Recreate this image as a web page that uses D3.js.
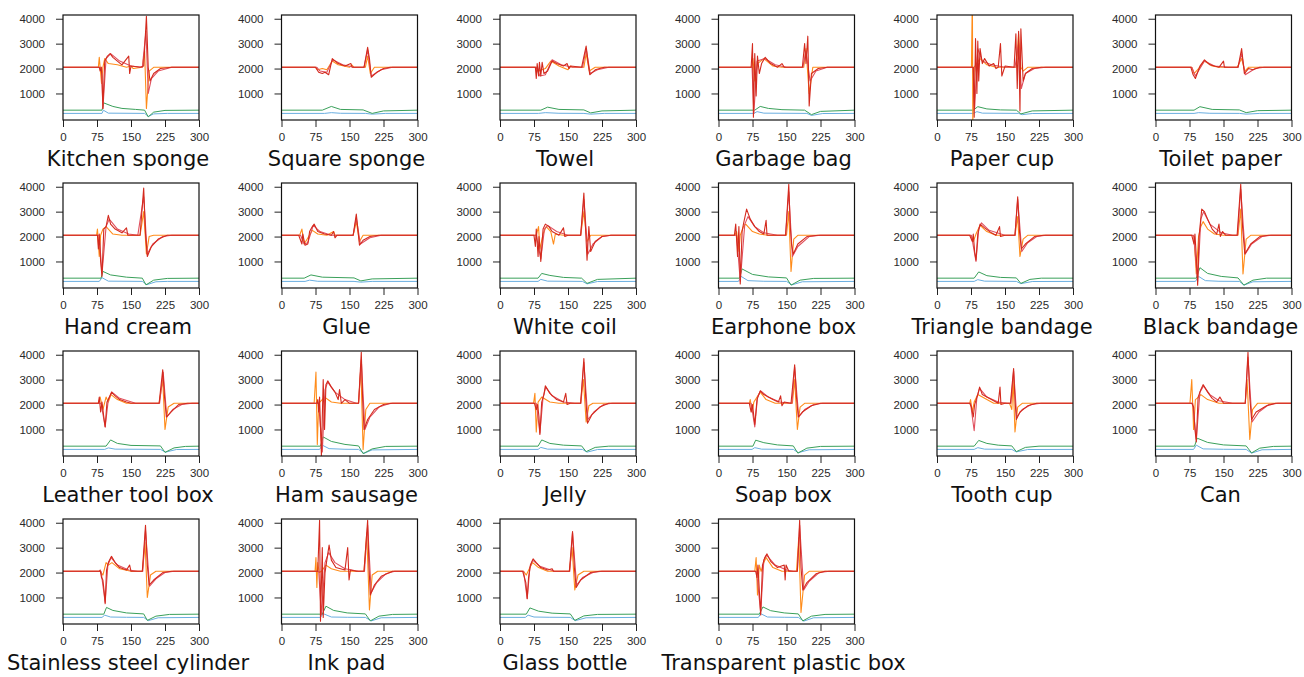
<!DOCTYPE html>
<html>
<head>
<meta charset="UTF-8">
<title>Small multiples</title>
<script src="https://d3js.org/d3.v7.min.js"></script>
<style>
  body { margin:0; background:#fff; font-family:"DejaVu Sans", sans-serif; }
  .tick text { font-size:11.5px; fill:#2a2a2a; }
  .tick line { stroke:#222; }
  .title { font-size:21px; fill:#111; }
</style>
</head>
<body>
<svg id="chart" width="1304" height="677"></svg>
<script>
const names = ["Kitchen sponge","Square sponge","Towel","Garbage bag","Paper cup","Toilet paper",
  "Hand cream","Glue","White coil","Earphone box","Triangle bandage","Black bandage",
  "Leather tool box","Ham sausage","Jelly","Soap box","Tooth cup","Can",
  "Stainless steel cylinder","Ink pad","Glass bottle","Transparent plastic box"];

const xTicks = [0,75,150,225,300];
const yTicks = [1000,2000,3000,4000];

// dark red channel (sharp, jittery)
const redSeries = [
  [[0,2050],[80,2050],[82,1900],[84,2050],[86,1700],[88,400],[92,2300],[98,2500],[104,2600],[110,2450],[120,2300],[130,2150],[145,2500],[147,1800],[150,2100],[170,2050],[178,2100],[184,4100],[188,2050],[192,1500],[200,1800],[215,2000],[240,2050],[300,2050]],
  [[0,2050],[75,2050],[82,1850],[90,1800],[96,1850],[104,1750],[112,2400],[125,2200],[140,2100],[153,2200],[156,2050],[182,2050],[190,2850],[194,2400],[198,1650],[210,1850],[225,2000],[240,2050],[300,2050]],
  [[0,2050],[78,2050],[80,1600],[82,2200],[85,1700],[87,2250],[90,1700],[93,2250],[97,1800],[105,1900],[115,2300],[125,2200],[140,2100],[148,2200],[152,2000],[156,2100],[180,2050],[190,2900],[194,2300],[198,1750],[210,1950],[230,2050],[300,2050]],
  [[0,2050],[72,2050],[75,3000],[77,50],[80,2600],[83,900],[86,2500],[90,1800],[95,2200],[103,2450],[115,2200],[130,2050],[140,2200],[145,2050],[185,2050],[190,3000],[193,2200],[197,3300],[200,500],[205,1800],[220,2000],[240,2050],[300,2050]],
  [[0,2050],[80,2050],[82,50],[85,3200],[88,1000],[90,3100],[92,1500],[95,2800],[100,2200],[105,2400],[115,2100],[125,2200],[130,2000],[135,2050],[140,3000],[143,1700],[150,2100],[170,2050],[174,3400],[177,1200],[180,3500],[183,300],[185,3600],[190,1500],[195,1800],[210,2000],[230,2050],[300,2050]],
  [[0,2050],[78,2050],[83,1750],[88,1600],[92,1800],[98,2100],[108,2350],[120,2150],[140,2050],[150,2300],[152,2050],[182,2050],[190,2800],[196,1800],[205,2000],[215,1950],[230,2050],[300,2050]],
  [[0,2050],[76,2050],[78,1500],[80,2100],[83,1000],[86,400],[90,2300],[95,2400],[100,2850],[105,2500],[115,2300],[130,2150],[140,2350],[143,2050],[170,2050],[178,3950],[182,2100],[186,1200],[195,1600],[210,1900],[230,2050],[300,2050]],
  [[0,2050],[38,2050],[45,1700],[47,2100],[52,1650],[58,1700],[62,2200],[68,2400],[72,2500],[80,2200],[95,2100],[110,2050],[115,2200],[118,1950],[122,2050],[158,2050],[165,2900],[169,2200],[172,1650],[180,1850],[195,2000],[215,2050],[300,2050]],
  [[0,2050],[75,2050],[78,1600],[80,2300],[84,1200],[86,2000],[90,1000],[95,2300],[100,2500],[108,2400],[115,2200],[130,2050],[140,2350],[143,2000],[150,2050],[178,2050],[185,3750],[189,2200],[192,1050],[196,2400],[200,1400],[210,1800],[225,2000],[245,2050],[300,2050]],
  [[0,2050],[35,2050],[38,2500],[42,1200],[45,2400],[48,100],[52,2200],[55,2500],[62,3100],[70,2700],[80,2400],[90,2200],[100,2100],[105,2650],[107,2050],[148,2050],[155,4100],[158,2500],[161,1700],[165,1300],[175,1700],[195,2000],[220,2050],[300,2050]],
  [[0,2050],[72,2050],[78,1800],[80,2100],[83,1400],[86,1050],[90,2100],[95,2500],[105,2350],[120,2150],[130,2050],[138,2400],[140,2000],[150,2050],[172,2050],[178,3600],[182,2200],[186,1500],[195,1700],[215,2000],[235,2050],[300,2050]],
  [[0,2050],[80,2050],[85,1700],[87,2100],[90,1200],[93,50],[96,2000],[102,3100],[108,3000],[115,2700],[125,2300],[135,2100],[140,2500],[143,2000],[148,2200],[155,2050],[180,2050],[188,4100],[192,2400],[197,1300],[210,1700],[230,2000],[250,2050],[300,2050]],
  [[0,2050],[78,2050],[80,2300],[83,1700],[86,2100],[90,1500],[93,1100],[97,2100],[100,2200],[107,2500],[115,2350],[125,2200],[140,2100],[150,2050],[212,2050],[220,3400],[224,2300],[228,1500],[238,1700],[255,2000],[275,2050],[300,2050]],
  [[0,2050],[78,2050],[80,2200],[82,1700],[84,2300],[88,-50],[92,3000],[95,1000],[98,2800],[102,2950],[110,2700],[118,2500],[125,2200],[128,2600],[132,2050],[140,2200],[150,2050],[170,2050],[176,4100],[179,2200],[182,1000],[190,1400],[205,1800],[225,2000],[245,2050],[300,2050]],
  [[0,2050],[76,2050],[80,1800],[83,2000],[86,1500],[88,800],[92,2100],[97,2400],[100,2750],[110,2450],[125,2200],[140,2100],[145,2450],[148,2000],[155,2050],[178,2050],[185,3850],[189,2300],[193,1250],[203,1600],[220,1900],[240,2050],[300,2050]],
  [[0,2050],[68,2050],[72,1700],[75,2000],[80,1200],[85,2200],[92,2550],[100,2400],[110,2300],[120,2200],[132,2100],[137,2350],[140,1950],[145,2100],[160,2050],[168,3600],[172,2300],[176,1500],[185,1700],[205,1950],[225,2050],[300,2050]],
  [[0,2050],[72,2050],[76,1900],[80,1500],[83,2000],[90,2400],[94,2700],[100,2400],[110,2300],[120,2200],[135,2050],[139,2700],[141,2000],[150,2050],[162,2050],[169,3450],[172,2200],[175,1400],[183,1700],[200,1950],[220,2050],[300,2050]],
  [[0,2050],[80,2050],[84,1900],[87,1000],[90,500],[94,2300],[100,2600],[105,2800],[115,2500],[125,2250],[135,2100],[142,2300],[150,2050],[198,2050],[204,4100],[208,2300],[212,1400],[222,1700],[245,1950],[265,2050],[300,2050]],
  [[0,2050],[80,2050],[82,2100],[85,1800],[88,1700],[91,1200],[93,750],[96,2100],[100,2400],[107,2650],[115,2400],[125,2200],[140,2100],[147,2300],[150,2050],[175,2050],[182,3900],[186,2300],[190,1500],[200,1700],[220,2000],[240,2050],[300,2050]],
  [[0,2050],[80,2050],[84,4100],[86,50],[90,3000],[92,200],[96,2000],[100,2500],[105,3100],[110,2500],[120,2200],[140,2100],[146,3000],[149,1700],[152,2100],[165,2050],[182,2050],[190,4100],[193,2200],[196,1100],[205,1500],[220,1850],[245,2050],[300,2050]],
  [[0,2050],[50,2050],[54,1800],[57,1600],[60,950],[63,1800],[67,2300],[73,2550],[80,2400],[90,2200],[105,2100],[115,2150],[118,2050],[153,2050],[160,3650],[164,2200],[168,1400],[178,1700],[200,2000],[220,2050],[300,2050]],
  [[0,2050],[82,2050],[85,1800],[87,2300],[90,1300],[93,300],[97,2300],[102,2600],[107,2750],[115,2450],[130,2200],[145,2300],[147,1700],[149,2300],[155,2050],[174,2050],[179,4100],[182,2200],[186,1300],[195,1600],[215,1950],[235,2050],[300,2050]]
];

// pink-red channel (smooth, slow recovery)
const pinkSeries = [
  [[0,2050],[85,2050],[88,400],[95,2400],[105,2600],[125,2300],[150,2100],[175,2050],[183,3500],[188,1000],[195,1600],[210,1900],[240,2050],[300,2050]],
  [[0,2050],[78,2050],[85,1900],[100,1850],[113,2350],[135,2150],[160,2050],[182,2050],[190,2750],[198,1700],[220,1950],[245,2050],[300,2050]],
  [[0,2050],[80,2050],[88,1700],[100,1750],[115,2350],[135,2150],[160,2050],[182,2050],[190,2800],[199,1800],[215,1950],[240,2050],[300,2050]],
  [[0,2050],[74,2050],[78,200],[85,2300],[102,2400],[125,2150],[150,2050],[186,2050],[193,2700],[202,1500],[215,1900],[240,2050],[300,2050]],
  [[0,2050],[80,2050],[83,400],[90,2800],[100,2300],[120,2150],[150,2050],[172,2050],[180,3000],[186,1200],[195,1800],[215,2000],[240,2050],[300,2050]],
  [[0,2050],[80,2050],[88,1700],[108,2300],[130,2100],[160,2050],[182,2050],[190,2600],[198,1750],[220,2000],[240,2050],[300,2050]],
  [[0,2050],[80,2050],[86,500],[95,2400],[102,2700],[120,2300],[145,2100],[165,2050],[178,3600],[186,1300],[198,1700],[220,2000],[240,2050],[300,2050]],
  [[0,2050],[42,2050],[50,1700],[58,1750],[70,2450],[85,2200],[110,2050],[158,2050],[165,2750],[174,1700],[195,1950],[220,2050],[300,2050]],
  [[0,2050],[80,2050],[90,1100],[98,2300],[105,2450],[125,2200],[150,2050],[178,2050],[185,3500],[194,1300],[205,1700],[225,2000],[245,2050],[300,2050]],
  [[0,2050],[40,2050],[48,200],[58,2500],[65,2800],[80,2400],[100,2150],[130,2050],[148,2050],[155,3800],[163,1200],[175,1600],[200,2000],[225,2050],[300,2050]],
  [[0,2050],[76,2050],[86,1000],[92,2300],[98,2550],[115,2250],[150,2050],[172,2050],[178,3500],[187,1400],[200,1750],[220,2000],[240,2050],[300,2050]],
  [[0,2050],[84,2050],[93,200],[100,2700],[106,3000],[120,2500],[145,2150],[170,2050],[181,2050],[188,3900],[198,1300],[212,1700],[235,2000],[255,2050],[300,2050]],
  [[0,2050],[84,2050],[93,1100],[100,2200],[108,2500],[125,2250],[160,2050],[213,2050],[221,3300],[229,1500],[242,1800],[262,2000],[285,2050],[300,2050]],
  [[0,2050],[82,2050],[90,100],[96,2600],[102,2900],[118,2500],[140,2200],[165,2050],[170,2050],[176,3800],[184,1000],[195,1500],[215,1900],[240,2050],[300,2050]],
  [[0,2050],[80,2050],[88,850],[95,2300],[101,2700],[115,2350],[140,2100],[165,2050],[178,2050],[185,3700],[194,1400],[207,1700],[228,2000],[248,2050],[300,2050]],
  [[0,2050],[72,2050],[80,1100],[86,2300],[93,2550],[110,2300],[135,2100],[155,2050],[162,2050],[168,3500],[177,1500],[190,1800],[210,2000],[230,2050],[300,2050]],
  [[0,2050],[74,2050],[82,950],[88,2300],[94,2650],[110,2300],[135,2100],[155,2050],[163,2050],[169,3350],[176,1500],[188,1800],[208,2000],[230,2050],[300,2050]],
  [[0,2050],[82,2050],[90,600],[98,2500],[106,2750],[120,2400],[140,2150],[170,2050],[198,2050],[204,3900],[213,1300],[228,1700],[250,2000],[270,2050],[300,2050]],
  [[0,2050],[84,2050],[93,800],[99,2300],[106,2600],[120,2300],[145,2100],[165,2050],[176,2050],[182,3700],[191,1450],[205,1750],[225,2000],[245,2050],[300,2050]],
  [[0,2050],[82,2050],[88,300],[96,2400],[104,2800],[118,2400],[140,2150],[170,2050],[183,2050],[190,3900],[198,1200],[210,1600],[230,1950],[250,2050],[300,2050]],
  [[0,2050],[52,2050],[60,950],[66,2200],[72,2500],[88,2250],[120,2050],[154,2050],[160,3600],[169,1500],[182,1800],[205,2000],[225,2050],[300,2050]],
  [[0,2050],[84,2050],[93,400],[100,2500],[106,2700],[125,2300],[150,2100],[165,2050],[174,2050],[179,3900],[188,1300],[200,1650],[222,2000],[245,2050],[300,2050]]
];

// orange channel (fast recovery)
const orangeSeries = [
  [[0,2050],[78,2050],[80,2450],[85,1400],[88,2050],[92,2400],[100,2200],[120,2150],[140,2050],[150,2100],[155,2000],[175,2050],[180,2700],[184,400],[190,1900],[200,2050],[300,2050]],
  [[0,2050],[75,2050],[80,1950],[90,2000],[100,1950],[112,2300],[125,2150],[150,2050],[155,2150],[160,2050],[185,2050],[190,2500],[196,1800],[205,2050],[300,2050]],
  [[0,2050],[80,2050],[85,1900],[100,2000],[112,2300],[130,2100],[150,1950],[155,2100],[160,2050],[185,2050],[190,2600],[197,1900],[210,2050],[300,2050]],
  [[0,2050],[73,2050],[76,2400],[80,1500],[86,2200],[100,2400],[120,2100],[140,2050],[188,2050],[193,2800],[200,1000],[208,2050],[300,2050]],
  [[0,2050],[76,2050],[78,5000],[79,-100],[82,2050],[95,2400],[110,2150],[130,2050],[175,2050],[180,3400],[185,2050],[190,1900],[200,2050],[300,2050]],
  [[0,2050],[80,2050],[85,1800],[95,2000],[108,2300],[125,2100],[140,2050],[180,2050],[190,2400],[197,1900],[205,2050],[300,2050]],
  [[0,2050],[74,2050],[76,2300],[80,1200],[83,2050],[88,2300],[95,2400],[110,2100],[130,2050],[170,2050],[178,3000],[184,1300],[190,2000],[200,2050],[300,2050]],
  [[0,2050],[40,2050],[45,2300],[50,1700],[60,2000],[68,2250],[80,2100],[100,2050],[115,2200],[118,2050],[158,2050],[165,2600],[172,1800],[180,2050],[300,2050]],
  [[0,2050],[80,2050],[85,2400],[88,1500],[95,2100],[102,2400],[112,2200],[118,1700],[122,2100],[140,2050],[178,2050],[185,3000],[192,1800],[200,2050],[300,2050]],
  [[0,2050],[36,2050],[40,2200],[45,1400],[48,2050],[55,2400],[60,2500],[75,2200],[90,2100],[110,2050],[150,2050],[155,3000],[160,600],[166,1900],[175,2050],[300,2050]],
  [[0,2050],[74,2050],[80,1800],[86,2100],[95,2450],[110,2200],[130,2050],[172,2050],[178,2800],[183,1200],[190,1900],[200,2050],[300,2050]],
  [[0,2050],[80,2050],[85,2000],[90,500],[95,2000],[100,2400],[105,2600],[115,2300],[130,2100],[150,2050],[182,2050],[188,3100],[193,500],[200,1900],[210,2050],[300,2050]],
  [[0,2050],[78,2050],[82,2300],[88,1800],[95,2300],[100,2100],[106,2400],[120,2200],[140,2050],[212,2050],[220,3000],[225,1000],[232,1900],[245,2050],[300,2050]],
  [[0,2050],[72,2050],[76,3300],[79,400],[82,2050],[95,2300],[110,2100],[130,2050],[170,2050],[175,3500],[180,200],[186,1800],[195,2050],[300,2050]],
  [[0,2050],[74,2050],[77,2450],[80,900],[84,2100],[92,2300],[110,2100],[130,2050],[178,2050],[184,3000],[190,1300],[196,1950],[205,2050],[300,2050]],
  [[0,2050],[68,2050],[70,2200],[74,1700],[78,2100],[85,2300],[92,2500],[105,2200],[125,2050],[163,2050],[168,3000],[174,1000],[180,1900],[190,2050],[300,2050]],
  [[0,2050],[72,2050],[74,2200],[78,1700],[82,2100],[90,2400],[105,2250],[125,2050],[160,2050],[165,1800],[168,3000],[172,900],[178,1900],[188,2050],[300,2050]],
  [[0,2050],[76,2050],[80,3000],[84,1000],[88,2200],[95,2300],[100,2400],[115,2200],[140,2050],[198,2050],[202,3000],[208,600],[214,1800],[225,2050],[300,2050]],
  [[0,2050],[82,2050],[88,1900],[95,2400],[100,2300],[108,2400],[125,2150],[150,2050],[175,2050],[181,3200],[186,1000],[193,1900],[205,2050],[300,2050]],
  [[0,2050],[74,2050],[76,2600],[78,1400],[80,2400],[83,2000],[88,2050],[98,2300],[110,2150],[130,2050],[182,2050],[188,3600],[194,500],[200,1900],[212,2050],[300,2050]],
  [[0,2050],[52,2050],[58,1900],[66,2200],[72,2400],[85,2200],[105,2050],[153,2050],[159,3000],[165,1300],[172,1900],[185,2050],[300,2050]],
  [[0,2050],[80,2050],[83,2600],[86,1100],[90,2300],[94,2050],[100,2400],[105,2600],[120,2200],[140,2050],[172,2050],[177,3400],[182,400],[190,1900],[200,2050],[300,2050]]
];

// green channel (low level)
const greenSeries = [
  [[0,330],[86,330],[90,620],[110,480],[130,400],[160,360],[180,330],[188,60],[200,250],[225,320],[300,330]],
  [[0,330],[90,330],[110,480],[130,360],[180,340],[200,200],[225,300],[300,330]],
  [[0,330],[90,330],[105,450],[130,360],[185,340],[200,220],[225,300],[300,330]],
  [[0,330],[80,330],[92,480],[110,400],[140,350],[190,330],[205,150],[225,280],[300,330]],
  [[0,330],[80,330],[90,470],[110,380],[140,340],[175,330],[185,180],[210,300],[300,330]],
  [[0,330],[85,330],[98,470],[125,360],[185,340],[200,230],[225,310],[300,330]],
  [[0,330],[84,330],[88,600],[105,460],[140,370],[175,330],[183,60],[200,250],[230,320],[300,330]],
  [[0,330],[50,330],[65,460],[90,370],[160,340],[175,220],[200,300],[300,330]],
  [[0,330],[84,330],[92,520],[110,440],[140,360],[180,330],[192,120],[215,280],[300,330]],
  [[0,330],[46,330],[52,700],[75,480],[110,380],[150,340],[160,50],[180,250],[210,320],[300,330]],
  [[0,330],[82,330],[92,580],[110,430],[140,360],[175,340],[185,120],[205,280],[230,330],[300,330]],
  [[0,330],[90,330],[98,750],[115,520],[145,400],[182,340],[195,50],[215,250],[245,330],[300,330]],
  [[0,330],[95,330],[105,580],[120,440],[150,360],[215,340],[225,80],[245,260],[270,320],[300,330]],
  [[0,330],[86,330],[92,700],[110,520],[140,400],[170,340],[180,30],[200,220],[230,320],[300,330]],
  [[0,330],[84,330],[92,580],[110,440],[140,370],[180,340],[190,110],[210,280],[240,330],[300,330]],
  [[0,330],[76,330],[82,570],[100,470],[130,380],[165,340],[175,50],[195,250],[225,320],[300,330]],
  [[0,330],[82,330],[92,560],[110,440],[135,370],[165,340],[175,110],[195,280],[225,330],[300,330]],
  [[0,330],[86,330],[92,650],[115,480],[150,380],[200,340],[212,60],[230,250],[260,320],[300,330]],
  [[0,330],[90,330],[96,600],[110,480],[140,380],[178,340],[186,80],[205,250],[235,320],[300,330]],
  [[0,330],[90,330],[98,650],[115,480],[145,380],[185,340],[196,60],[215,250],[245,320],[300,330]],
  [[0,330],[58,330],[66,580],[85,450],[115,370],[155,340],[165,80],[185,260],[215,320],[300,330]],
  [[0,330],[90,330],[98,620],[115,470],[145,380],[176,340],[186,60],[205,250],[235,320],[300,330]]
];

// blue channel (low level)
const blueSeries = [
  [[0,200],[86,200],[89,330],[100,210],[180,200],[188,80],[200,180],[230,200],[300,200]],
  [[0,200],[95,200],[110,230],[130,205],[185,200],[200,170],[230,200],[300,200]],
  [[0,200],[85,200],[100,230],[130,205],[185,200],[200,170],[230,200],[300,200]],
  [[0,200],[78,200],[85,270],[100,210],[195,200],[205,120],[230,195],[300,200]],
  [[0,200],[80,200],[88,270],[100,210],[180,200],[188,150],[210,195],[300,200]],
  [[0,200],[85,200],[95,230],[120,205],[185,200],[200,170],[230,200],[300,200]],
  [[0,200],[80,200],[86,350],[100,210],[175,200],[185,70],[205,185],[230,200],[300,200]],
  [[0,200],[52,200],[62,250],[80,205],[160,200],[175,170],[200,200],[300,200]],
  [[0,200],[84,200],[90,280],[105,210],[182,200],[192,100],[215,195],[300,200]],
  [[0,200],[44,200],[50,400],[65,230],[100,205],[150,200],[162,60],[185,185],[300,200]],
  [[0,200],[82,200],[90,270],[105,210],[175,200],[185,110],[210,195],[300,200]],
  [[0,200],[88,200],[95,400],[110,230],[140,205],[185,200],[195,50],[215,185],[300,200]],
  [[0,200],[92,200],[100,260],[115,210],[215,200],[226,90],[250,195],[300,200]],
  [[0,200],[84,200],[90,370],[105,230],[140,205],[170,200],[182,40],[200,180],[300,200]],
  [[0,200],[84,200],[90,280],[105,210],[182,200],[192,90],[215,195],[300,200]],
  [[0,200],[74,200],[80,270],[95,210],[165,200],[176,70],[200,185],[300,200]],
  [[0,200],[82,200],[90,270],[105,210],[165,200],[175,100],[200,195],[300,200]],
  [[0,200],[84,200],[90,370],[105,220],[150,205],[200,200],[212,50],[235,185],[300,200]],
  [[0,200],[86,200],[92,290],[105,215],[140,205],[178,200],[188,70],[210,185],[300,200]],
  [[0,200],[86,200],[92,350],[110,215],[145,205],[185,200],[198,60],[220,185],[300,200]],
  [[0,200],[56,200],[62,290],[75,215],[110,205],[155,200],[166,70],[190,185],[300,200]],
  [[0,200],[88,200],[93,350],[108,215],[145,205],[176,200],[188,50],[210,185],[300,200]]
];

// layout
const nCols = 6, colStep = 218.5, rowStep = 168;
const left0 = 63, top0 = 15, w = 136, h = 105;

const x = d3.scaleLinear().domain([0,300]).range([0,w]);
const y = d3.scaleLinear().domain([-65,4150]).range([h,0]);
const line = d3.line().x(d => x(d[0])).y(d => y(d[1]));

const svg = d3.select('#chart');
svg.append('defs').append('clipPath').attr('id','clip')
  .append('rect').attr('width',w).attr('height',h);

const layers = [
  {data: blueSeries,   color:'#6aaee0', width:1},
  {data: greenSeries,  color:'#3aa05a', width:1},
  {data: orangeSeries, color:'#ff8c1a', width:1.1},
  {data: pinkSeries,   color:'#e0505e', width:1.1},
  {data: redSeries,    color:'#d42a1e', width:1.1}
];

names.forEach((name,i) => {
  const c = i % nCols, r = Math.floor(i / nCols);
  const g = svg.append('g')
    .attr('transform', `translate(${left0 + c*colStep},${top0 + r*rowStep})`);

  const plot = g.append('g').attr('clip-path','url(#clip)');
  layers.forEach(l => {
    plot.append('path')
      .datum(l.data[i])
      .attr('fill','none')
      .attr('stroke', l.color)
      .attr('stroke-width', l.width)
      .attr('stroke-linejoin','round')
      .attr('d', line);
  });

  g.append('g').attr('transform',`translate(0,${h})`)
    .call(d3.axisBottom(x).tickValues(xTicks).tickFormat(d3.format('d')).tickSize(7).tickPadding(6))
    .call(a => a.select('.domain').remove());
  g.append('g')
    .call(d3.axisLeft(y).tickValues(yTicks).tickFormat(d3.format('d')).tickSize(7).tickPadding(11))
    .call(a => a.select('.domain').remove());

  g.append('rect').attr('width',w).attr('height',h)
    .attr('fill','none').attr('stroke','#111').attr('stroke-width',1.2);

  g.append('text').attr('class','title')
    .attr('x', w/2 - 3).attr('y', h + 46)
    .attr('text-anchor','middle')
    .text(name);
});
</script>
</body>
</html>
